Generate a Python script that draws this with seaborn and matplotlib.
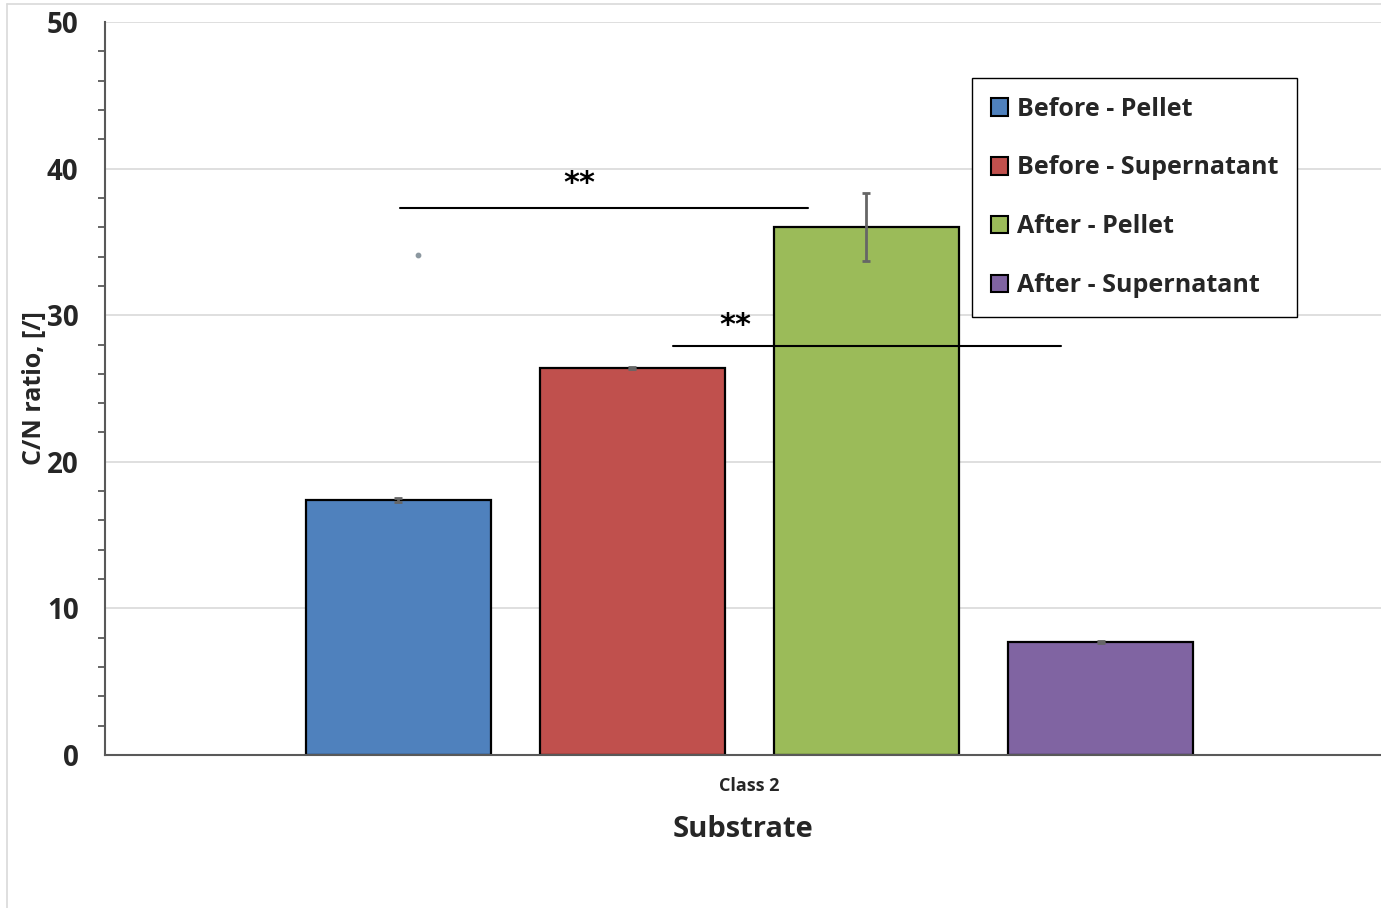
import matplotlib
matplotlib.use("Agg")
import matplotlib.pyplot as plt
from matplotlib.ticker import MultipleLocator
from matplotlib.lines import Line2D
import seaborn as sns
import pandas as pd

# C/N ratio of the class 2 substrate, before and after treatment
substrate = ["Class 2"]
groups = ["Before - Pellet", "Before - Supernatant", "After - Pellet", "After - Supernatant"]
means = [17.4, 26.4, 36.0, 7.7]
errors = [0.12, 0.08, 2.33, 0.08]
colors = ["#4F81BD", "#C0504D", "#9BBB59", "#8064A2"]

# significance brackets: line span, line height, label position
sig_x_start = [-0.274, -0.060]
sig_x_end = [0.046, 0.244]
sig_y = [37.3, 27.9]
sig_label_x = [-0.133, -0.011]
sig_label_y = [39.0, 29.3]
sig_label = ["**", "**"]

# single stray observation
stray_x = [-0.26]
stray_y = [34.1]

sns.set_theme(style="white")
plt.rcParams["font.family"] = ["Open Sans", "DejaVu Sans"]
plt.rcParams["font.weight"] = "bold"

df = pd.DataFrame({
    "Substrate": substrate * len(groups),
    "group": groups,
    "value": means,
})

fig = plt.figure(figsize=(13.81, 9.08), dpi=100)
ax = fig.add_axes([105 / 1381, 153 / 908, 1 - 105 / 1381, 733 / 908])

sns.barplot(data=df, x="Substrate", y="value", hue="group", hue_order=groups,
            palette=colors, width=0.734, gap=0.21, edgecolor="black",
            linewidth=1.6, errorbar=None, ax=ax, saturation=1)

# error bars at the bar centres
for cont, m, e in zip(ax.containers, means, errors):
    bar = cont.patches[0]
    cx = bar.get_x() + bar.get_width() / 2
    ax.errorbar(cx, m, yerr=e, fmt="none", ecolor="#666666", elinewidth=2,
                capsize=3, capthick=2, zorder=5)

ax.scatter(stray_x, stray_y, s=10, color="#8C98A0", zorder=5)

for xs, xe, y in zip(sig_x_start, sig_x_end, sig_y):
    ax.plot([xs, xe], [y, y], color="black", lw=1.5, zorder=6)
for lx, ly, lab in zip(sig_label_x, sig_label_y, sig_label):
    ax.text(lx, ly, lab, ha="center", va="center", fontsize=22,
            fontweight="bold", color="black", family="DejaVu Sans")

ax.set_xlim(-0.505, 0.495)
ax.set_ylim(0, 50)
ax.yaxis.set_major_locator(MultipleLocator(10))
ax.yaxis.set_minor_locator(MultipleLocator(2))
ax.grid(axis="y", which="major", color="#D9D9D9", lw=1.2)
ax.set_axisbelow(True)

for s in ["top", "right"]:
    ax.spines[s].set_visible(False)
for s in ["left", "bottom"]:
    ax.spines[s].set_color("#595959")
    ax.spines[s].set_linewidth(1.5)

ax.tick_params(axis="y", which="major", direction="inout", length=14, width=1.3,
               color="#595959", labelsize=20, pad=12)
ax.tick_params(axis="y", which="minor", direction="out", length=5, width=1.3,
               color="#595959", left=True)
ax.tick_params(axis="x", which="both", length=0, labelsize=13, pad=16)
for t in ax.get_yticklabels():
    t.set_fontweight("bold")
for t in ax.get_xticklabels():
    t.set_fontweight("bold")

ax.set_ylabel("C/N ratio, [/]", fontsize=18, fontweight="bold", labelpad=0)
ax.set_xlabel("Substrate", fontsize=21, fontweight="bold", labelpad=14)

handles = [plt.Rectangle((0, 0), 1, 1, facecolor=c, edgecolor="black", lw=1.5)
           for c in colors]
leg = ax.legend(handles, groups, loc="upper left",
                bbox_to_anchor=((972 - 105) / 1276, (755 - 78) / 733),
                frameon=True, fancybox=False, framealpha=1, edgecolor="black",
                fontsize=18, labelspacing=1.35, handlelength=0.7,
                handleheight=0.7, handletextpad=0.35, borderpad=0.75,
                borderaxespad=0)
leg.get_frame().set_linewidth(1.0)
for t in leg.get_texts():
    t.set_fontweight("bold")

# thin outer frame of the chart area
fig.add_artist(Line2D([7 / 1381, 7 / 1381], [0, 1 - 4 / 908], color="#D9D9D9",
                      lw=1.2, transform=fig.transFigure))
fig.add_artist(Line2D([7 / 1381, 1], [1 - 4 / 908, 1 - 4 / 908], color="#D9D9D9",
                      lw=1.2, transform=fig.transFigure))

fig.savefig("out.png", dpi=100)
